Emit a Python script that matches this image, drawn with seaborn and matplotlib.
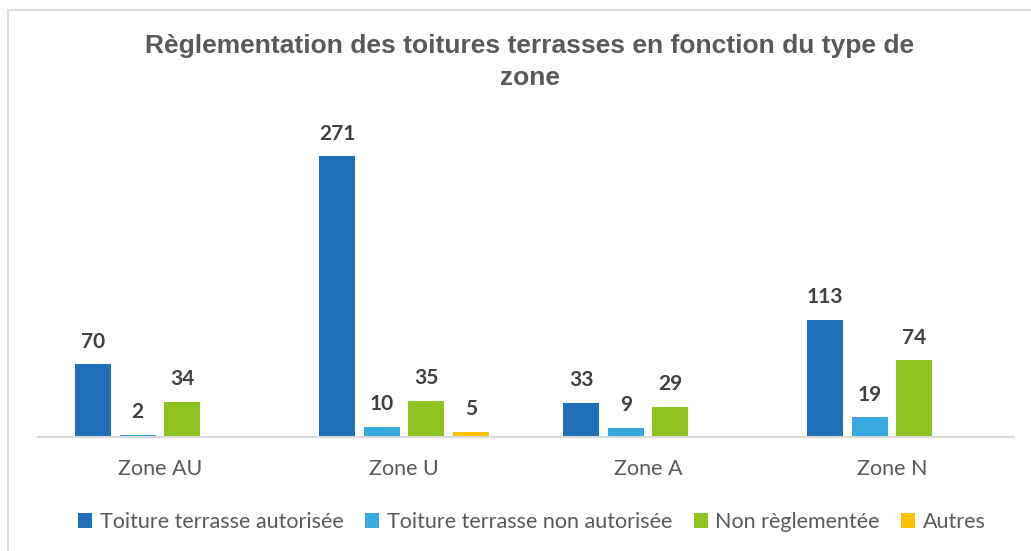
import pandas as pd
import matplotlib.pyplot as plt
import seaborn as sns
from matplotlib.patches import Rectangle

# data
zones = ['Zone AU', 'Zone U', 'Zone A', 'Zone N']
series = ['Toiture terrasse autorisée', 'Toiture terrasse non autorisée',
          'Non règlementée', 'Autres']
autorisee = [70, 271, 33, 113]
non_autorisee = [2, 10, 9, 19]
non_reglementee = [34, 35, 29, 74]
autres = [0, 5, 0, 0]

colors = ['#1F6FB8', '#38A9E0', '#8EC21F', '#FFC000']

rows = []
for serie, vals in zip(series, [autorisee, non_autorisee, non_reglementee, autres]):
    for z, v in zip(zones, vals):
        rows.append({'Zone': z, 'Serie': serie, 'Valeur': v})
df = pd.DataFrame(rows)

sns.set_theme(style='white')
plt.rcParams['font.family'] = ['Lato', 'DejaVu Sans']

fig = plt.figure(figsize=(10.31, 5.51), dpi=100)
# light grey chart frame
fig.patches.append(Rectangle((8 / 1031, -0.05), 1.1, 1 - 10 / 551 + 0.05,
                             transform=fig.transFigure, fill=False,
                             edgecolor='#D9D9D9', linewidth=1.5))

ax = fig.add_axes([38 / 1031, 1 - 437 / 551, 976 / 1031, 311 / 551])
sns.barplot(data=df, x='Zone', y='Valeur', hue='Serie', order=zones,
            hue_order=series, palette=colors, saturation=1, width=0.73,
            gap=0.2, linewidth=0, ax=ax, legend=True)

ax.set_ylim(0, 300)
ax.set_xlim(-0.5, 3.5)
ax.set_xlabel('')
ax.set_ylabel('')
ax.set_yticks([])
for s in ['top', 'right', 'left']:
    ax.spines[s].set_visible(False)
ax.spines['bottom'].set_color('#D9D9D9')
ax.spines['bottom'].set_linewidth(1.5)
ax.tick_params(axis='x', length=0, pad=16, labelsize=15.5, labelcolor='#595959')

# data labels, skip the empty bars
for cont in ax.containers:
    for bar in cont:
        h = bar.get_height()
        if h > 0:
            ax.annotate(f'{int(h)}', (bar.get_x() + bar.get_width() / 2, h),
                        xytext=(0, 9), textcoords='offset points',
                        ha='center', va='bottom', fontsize=15,
                        fontweight='bold', color='#404040')

fig.text(0.514, 1 - 62 / 551,
         'Règlementation des toitures terrasses en fonction du type de\nzone',
         ha='center', va='center', fontsize=19, fontweight='bold',
         color='#595959', family='Liberation Sans', linespacing=1.45)

ax.legend_.remove()
handles, labels = ax.get_legend_handles_labels()
fig.legend(handles, labels, loc='center', bbox_to_anchor=(0.516, 1 - 522 / 551),
           ncol=4, frameon=False, fontsize=15.5, labelcolor='#595959',
           handlelength=0.65, handleheight=0.65, handletextpad=0.35,
           columnspacing=1.0)

fig.savefig('out.png', dpi=100)
